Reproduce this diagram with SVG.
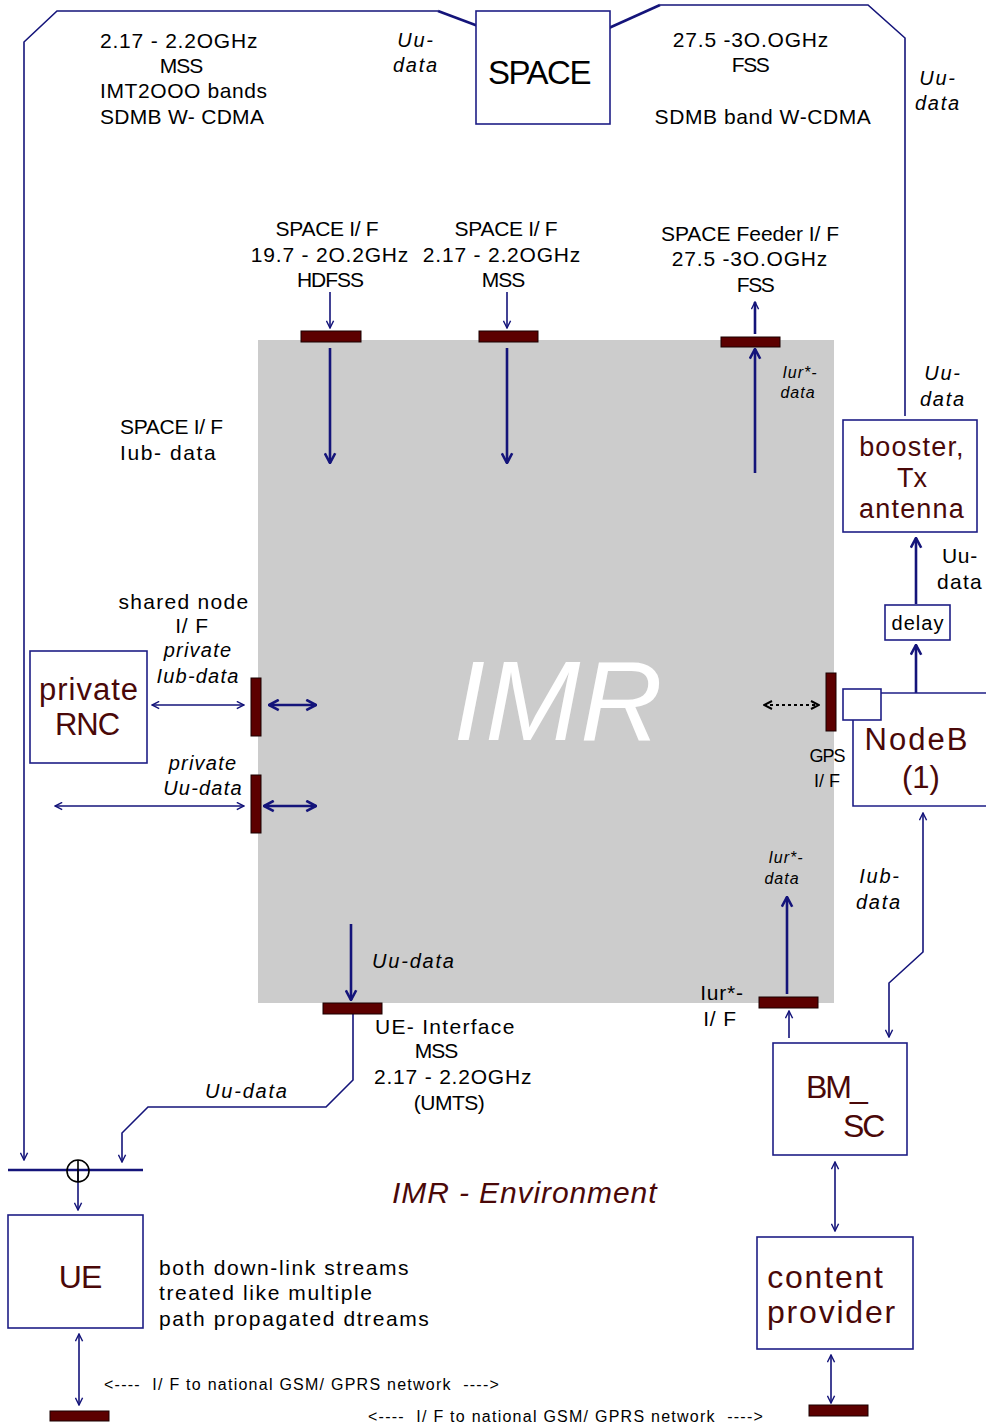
<svg xmlns="http://www.w3.org/2000/svg" width="986" height="1425" viewBox="0 0 986 1425">
<defs>
<marker id="ah" viewBox="0 0 10 10" refX="9" refY="5" markerWidth="9" markerHeight="9" markerUnits="userSpaceOnUse" orient="auto-start-reverse"><path d="M1,1 L9,5 L1,9" fill="none" stroke="#14147a" stroke-width="1.6"/></marker>
<marker id="ahb" viewBox="0 0 10 10" refX="9" refY="5" markerWidth="13" markerHeight="13" markerUnits="userSpaceOnUse" orient="auto-start-reverse"><path d="M1.5,1 L9,5 L1.5,9" fill="none" stroke="#14147a" stroke-width="2"/></marker>
<marker id="ahk" viewBox="0 0 10 10" refX="9" refY="5" markerWidth="10" markerHeight="10" markerUnits="userSpaceOnUse" orient="auto-start-reverse"><path d="M1,1 L9,5 L1,9" fill="none" stroke="#000" stroke-width="2"/></marker>
</defs>
<style>
text{font-family:"Liberation Sans",Arial,sans-serif;fill:#000}
.t{font-size:21px;letter-spacing:0.8px}
.s{font-size:18px}
.i{font-style:italic;font-size:20px;letter-spacing:1.8px}
.is{font-style:italic;font-size:16px;letter-spacing:1px}
.n{fill:#4a0808;font-size:31px}
.box{fill:#fff;stroke:#1e1e86;stroke-width:1.6}
.bar{fill:#5c0000;stroke:#1a0000;stroke-width:1}
.ln{fill:none;stroke:#14147a;stroke-width:1.6}
.th{fill:none;stroke:#14147a;stroke-width:2.6}
.c{text-anchor:middle}
.g{font-size:16px;letter-spacing:1.25px;white-space:pre}
</style>
<rect id="imr" x="258" y="340" width="576" height="663" fill="#cccccc"/>
<text x="558" y="740" class="c" style="font-size:114px;font-style:italic;fill:#fff">IMR</text>

<g id="connectors">
<polyline class="ln" points="438,11 57,11 24,42 24,1160" marker-end="url(#ah)"/>
<line class="th" x1="438" y1="11" x2="494" y2="32"/>
<polyline class="ln" points="660,5 868,5 905,38 905,416"/>
<line class="th" x1="600" y1="32" x2="660" y2="5"/>
<line class="ln" x1="330" y1="292" x2="330" y2="328" marker-end="url(#ah)"/>
<line class="ln" x1="507" y1="292" x2="507" y2="328" marker-end="url(#ah)"/>
<line class="th" x1="330" y1="348" x2="330" y2="463" marker-end="url(#ahb)"/>
<line class="th" x1="507" y1="348" x2="507" y2="463" marker-end="url(#ahb)"/>
<line class="th" x1="755" y1="473" x2="755" y2="349" marker-end="url(#ahb)"/>
<line class="th" x1="755" y1="334" x2="755" y2="302" marker-end="url(#ah)"/>
<line class="ln" x1="152" y1="705" x2="244" y2="705" marker-start="url(#ah)" marker-end="url(#ah)"/>
<line class="th" x1="269" y1="705" x2="316" y2="705" marker-start="url(#ahb)" marker-end="url(#ahb)"/>
<line class="ln" x1="55" y1="806" x2="244" y2="806" marker-start="url(#ah)" marker-end="url(#ah)"/>
<line class="th" x1="264" y1="806" x2="316" y2="806" marker-start="url(#ahb)" marker-end="url(#ahb)"/>
<line x1="764" y1="705" x2="819" y2="705" stroke="#000" stroke-width="2" stroke-dasharray="3,3" marker-start="url(#ahk)" marker-end="url(#ahk)"/>
<line class="th" x1="916" y1="604" x2="916" y2="538" marker-end="url(#ahb)"/>
<line class="th" x1="916" y1="693" x2="916" y2="645" marker-end="url(#ahb)"/>
<line class="th" x1="787" y1="994" x2="787" y2="897" marker-end="url(#ahb)"/>
<line class="ln" x1="789" y1="1038" x2="789" y2="1011" marker-end="url(#ah)"/>
<polyline class="ln" points="923,813 923,952 889,983 889,1037" marker-start="url(#ah)" marker-end="url(#ah)"/>
<line class="ln" x1="835" y1="1162" x2="835" y2="1231" marker-start="url(#ah)" marker-end="url(#ah)"/>
<line class="ln" x1="831" y1="1355" x2="831" y2="1403" marker-start="url(#ah)" marker-end="url(#ah)"/>
<line class="th" x1="351" y1="924" x2="351" y2="1000" marker-end="url(#ahb)"/>
<polyline class="ln" points="353,1014 353,1080 326,1107 148,1107 122,1133 122,1162" marker-end="url(#ah)"/>
<line x1="8" y1="1170" x2="143" y2="1170" stroke="#14147a" stroke-width="2.6"/>
<line class="ln" x1="78" y1="1171" x2="78" y2="1210" marker-end="url(#ah)"/>
<line class="ln" x1="79" y1="1334" x2="79" y2="1405" marker-start="url(#ah)" marker-end="url(#ah)"/>
</g>

<g id="sum"><circle cx="78" cy="1171" r="11" fill="none" stroke="#000" stroke-width="1.6"/><line x1="78" y1="1160" x2="78" y2="1182" stroke="#000" stroke-width="1.6"/></g>

<g id="space"><rect class="box" x="476" y="11" width="134" height="113"/><text x="539" y="84" class="c" style="font-size:33px;letter-spacing:-1.5px">SPACE</text></g>

<g id="bars">
<rect class="bar" x="301" y="331" width="60" height="11"/>
<rect class="bar" x="479" y="331" width="59" height="11"/>
<rect class="bar" x="721" y="337" width="59" height="10"/>
<rect class="bar" x="251" y="678" width="10" height="58"/>
<rect class="bar" x="251" y="775" width="10" height="58"/>
<rect class="bar" x="826" y="673" width="10" height="58"/>
<rect class="bar" x="759" y="997" width="59" height="11"/>
<rect class="bar" x="323" y="1003" width="59" height="11"/>
<rect class="bar" x="50" y="1411" width="59" height="10"/>
<rect class="bar" x="809" y="1405" width="59" height="11"/>
</g>

<g id="rnc"><rect class="box" x="30" y="651" width="117" height="112"/><text x="89" y="700" class="n c" style="letter-spacing:1px">private</text><text x="87" y="735" class="n c" style="letter-spacing:-1px">RNC</text></g>
<g id="booster"><rect class="box" x="843" y="420" width="134" height="112"/><text x="912" y="456" class="n c" style="font-size:27px;letter-spacing:1.2px">booster,</text><text x="912" y="487" class="n c" style="font-size:27px">Tx</text><text x="912" y="518" class="n c" style="font-size:27px;letter-spacing:1.2px">antenna</text></g>
<g id="delay"><rect class="box" x="885" y="605" width="65" height="35"/><text x="918" y="630" class="c" style="font-size:20px;letter-spacing:1px">delay</text></g>
<g id="nodeb"><polyline class="box" points="853,720 853,806 986,806" fill="none"/><line x1="881" y1="693" x2="986" y2="693" stroke="#1e1e86" stroke-width="1.6"/><rect class="box" x="843" y="689" width="38" height="31" stroke-width="1"/><text x="917" y="750" class="n c" style="letter-spacing:2px">NodeB</text><text x="921" y="788" class="n c">(1)</text></g>
<g id="bmsc"><rect class="box" x="773" y="1043" width="134" height="112"/><text x="806" y="1098" class="n" style="font-size:32px;letter-spacing:-2px">BM_</text><text x="843" y="1137" class="n" style="font-size:32px;letter-spacing:-2px">SC</text></g>
<g id="content"><rect class="box" x="757" y="1237" width="156" height="112"/><text x="826" y="1288" class="n c" style="font-size:32px;letter-spacing:1.8px">content</text><text x="832" y="1323" class="n c" style="font-size:32px;letter-spacing:1.8px">provider</text></g>
<g id="ue"><rect class="box" x="8" y="1215" width="135" height="113"/><text x="80" y="1288" class="n c" style="font-size:32px;letter-spacing:-1px">UE</text></g>

<g id="labels">
<text x="100" y="48" class="t">2.17 - 2.2OGHz</text>
<text x="181" y="73" class="t c" style="letter-spacing:-1px">MSS</text>
<text x="100" y="98" class="t" style="letter-spacing:0.6px">IMT2OOO bands</text>
<text x="100" y="124" class="t" style="letter-spacing:0.3px">SDMB W- CDMA</text>
<text x="416" y="47" class="i c">Uu-</text>
<text x="416" y="72" class="i c">data</text>
<text x="751" y="47" class="t c">27.5 -3O.OGHz</text>
<text x="750" y="72" class="t c" style="letter-spacing:-1.5px">FSS</text>
<text x="763" y="124" class="t c" style="letter-spacing:0.6px">SDMB band W-CDMA</text>
<text x="938" y="85" class="i c">Uu-</text>
<text x="938" y="110" class="i c">data</text>
<text x="327" y="236" class="t c" style="letter-spacing:-0.3px">SPACE I/ F</text>
<text x="330" y="262" class="t c">19.7 - 2O.2GHz</text>
<text x="330" y="287" class="t c" style="letter-spacing:-1px">HDFSS</text>
<text x="506" y="236" class="t c" style="letter-spacing:-0.3px">SPACE I/ F</text>
<text x="502" y="262" class="t c">2.17 - 2.2OGHz</text>
<text x="503" y="287" class="t c" style="letter-spacing:-1px">MSS</text>
<text x="750" y="241" class="t c" style="letter-spacing:0px">SPACE Feeder I/ F</text>
<text x="750" y="266" class="t c">27.5 -3O.OGHz</text>
<text x="755" y="292" class="t c" style="letter-spacing:-1.5px">FSS</text>
<text x="800" y="378" class="is c">Iur*-</text>
<text x="798" y="398" class="is c">data</text>
<text x="120" y="434" class="t" style="letter-spacing:-0.3px">SPACE I/ F</text>
<text x="120" y="460" class="t" style="letter-spacing:1.6px">Iub- data</text>
<text x="184" y="609" class="t c" style="letter-spacing:1.3px">shared node</text>
<text x="192" y="633" class="t c">I/ F</text>
<text x="198" y="657" class="i c" style="letter-spacing:1.2px">private</text>
<text x="198" y="683" class="i c" style="letter-spacing:1.2px">Iub-data</text>
<text x="203" y="770" class="i c" style="letter-spacing:1.2px">private</text>
<text x="203" y="795" class="i c" style="letter-spacing:1.2px">Uu-data</text>
<text x="943" y="380" class="i c">Uu-</text>
<text x="943" y="406" class="i c">data</text>
<text x="960" y="563" class="t c">Uu-</text>
<text x="960" y="589" class="t c" style="letter-spacing:1.3px">data</text>
<text x="827" y="762" class="s c" style="letter-spacing:-1px">GPS</text>
<text x="827" y="787" class="s c">I/ F</text>
<text x="786" y="863" class="is c">Iur*-</text>
<text x="782" y="884" class="is c">data</text>
<text x="880" y="883" class="i c">Iub-</text>
<text x="879" y="909" class="i c">data</text>
<text x="722" y="1000" class="t c">Iur*-</text>
<text x="720" y="1026" class="t c">I/ F</text>
<text x="372" y="968" class="i">Uu-data</text>
<text x="375" y="1034" class="t" style="letter-spacing:1.3px">UE- Interface</text>
<text x="436" y="1058" class="t c" style="letter-spacing:-1px">MSS</text>
<text x="374" y="1084" class="t">2.17 - 2.2OGHz</text>
<text x="449" y="1110" class="t c" style="letter-spacing:-0.5px">(UMTS)</text>
<text x="205" y="1098" class="i">Uu-data</text>
<text x="392" y="1203" style="font-size:30px;font-style:italic;fill:#4a0808;letter-spacing:0.9px">IMR - Environment</text>
<text x="159" y="1275" class="t" style="letter-spacing:1.6px">both down-link streams</text>
<text x="159" y="1300" class="t" style="letter-spacing:1.6px">treated like multiple</text>
<text x="159" y="1326" class="t" style="letter-spacing:1.6px">path propagated dtreams</text>
<text x="104" y="1390" class="g" xml:space="preserve">&lt;----  I/ F to national GSM/ GPRS network  ----&gt;</text>
<text x="368" y="1422" class="g" xml:space="preserve">&lt;----  I/ F to national GSM/ GPRS network  ----&gt;</text>
</g>
</svg>
